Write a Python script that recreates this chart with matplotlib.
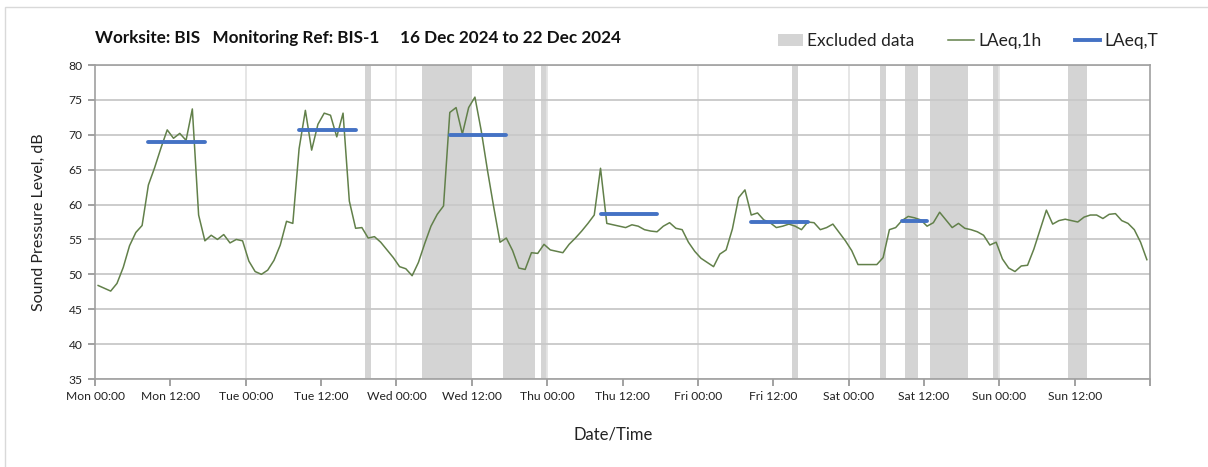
import numpy as np
import matplotlib
matplotlib.use('Agg')
import matplotlib.pyplot as plt
from matplotlib.patches import Rectangle
from matplotlib.lines import Line2D

plt.rcParams['font.family'] = ['Lato', 'DejaVu Sans']

# hourly LAeq,1h values, Mon 00:00 -> Sun 23:00
laeq_1h = [48.4, 48.0, 47.6, 48.7, 51.0, 54.1, 56.0, 57.0, 62.8, 65.3, 68.1, 70.7,
           69.5, 70.2, 69.2, 73.7, 58.5, 54.8, 55.6, 55.0, 55.7, 54.5, 55.0, 54.8,
           51.9, 50.4, 50.0, 50.6, 52.0, 54.2, 57.6, 57.3, 68.0, 73.5, 67.8, 71.5,
           73.1, 72.8, 69.7, 73.1, 60.5, 56.6, 56.7, 55.2, 55.4, 54.6, 53.5, 52.4,
           51.1, 50.8, 49.8, 51.7, 54.4, 56.9, 58.6, 59.8, 73.2, 73.9, 70.1, 73.9,
           75.4, 70.6, 64.9, 59.6, 54.6, 55.2, 53.4, 50.9, 50.7, 53.1, 53.0, 54.3,
           53.5, 53.3, 53.1, 54.3, 55.2, 56.2, 57.3, 58.5, 65.2, 57.3, 57.1, 56.9,
           56.7, 57.1, 56.9, 56.4, 56.2, 56.1, 56.9, 57.4, 56.6, 56.4, 54.6, 53.3,
           52.3, 51.7, 51.1, 52.9, 53.5, 56.5, 61.0, 62.1, 58.5, 58.8, 57.8, 57.4,
           56.7, 56.9, 57.2, 56.9, 56.4, 57.5, 57.4, 56.4, 56.7, 57.2, 56.0, 54.8,
           53.4, 51.4, 51.4, 51.4, 51.4, 52.4, 56.4, 56.7, 57.7, 58.3, 58.1, 57.8,
           56.9, 57.4, 58.9, 57.8, 56.7, 57.3, 56.6, 56.4, 56.1, 55.6, 54.2, 54.6,
           52.2, 50.9, 50.4, 51.2, 51.3, 53.6, 56.4, 59.2, 57.2, 57.7, 57.9, 57.7,
           57.5, 58.2, 58.5, 58.5, 58.0, 58.6, 58.7, 57.7, 57.3, 56.4, 54.6, 52.1]

# LAeq,T periods: first hour, last hour, level
laeq_t_start = [8, 32, 56, 80, 104, 128]
laeq_t_end = [17, 41, 65, 89, 113, 132]
laeq_t_level = [68.9, 70.7, 69.9, 58.7, 57.5, 57.6]

# excluded data (hour from, hour to)
excl_start = [43, 52, 65, 71, 111, 125, 129, 133, 143, 155]
excl_end = [44, 60, 70, 72, 112, 126, 131, 139, 144, 158]

tick_labels = ['Mon 00:00', 'Mon 12:00', 'Tue 00:00', 'Tue 12:00', 'Wed 00:00', 'Wed 12:00',
               'Thu 00:00', 'Thu 12:00', 'Fri 00:00', 'Fri 12:00', 'Sat 00:00', 'Sat 12:00',
               'Sun 00:00', 'Sun 12:00', '']

green = '#62804a'
blue = '#4472c4'
band = '#d4d4d4'

fig = plt.figure(figsize=(12.08, 4.67), dpi=100)
ax = fig.add_axes([95/1208, 1-379/467, (1150-95)/1208, (379-65)/467])

# outer chart border (only left and top edges fall inside the image)
fig.patches.append(Rectangle((5/1208, -0.1), 1.2, 1.1 - 7/467, transform=fig.transFigure,
                             fill=False, edgecolor='#d9d9d9', linewidth=1))

x = np.arange(len(laeq_1h)) + 0.5

for s, e in zip(excl_start, excl_end):
    ax.axvspan(s, e, color=band, linewidth=0, zorder=0.2)

ax.set_xlim(0, 168)
ax.set_ylim(35, 80)
ax.set_yticks(np.arange(35, 81, 5))
ax.set_xticks(np.arange(0, 169, 12))
ax.set_xticklabels(tick_labels)

ax.grid(axis='y', color='#c8c8c8', linewidth=1.3, zorder=0.5)
for d in range(24, 168, 24):
    ax.axvline(d, color='#e4e4e4', linewidth=1.3, zorder=0.4)
ax.set_axisbelow(True)

ax.plot(x, laeq_1h, color=green, linewidth=1.1, zorder=3)
for s, e, v in zip(laeq_t_start, laeq_t_end, laeq_t_level):
    ax.plot([s + 0.5, e + 0.5], [v, v], color=blue, linewidth=2.8,
            solid_capstyle='round', zorder=4)

for sp in ax.spines.values():
    sp.set_color('#a0a0a0')
    sp.set_linewidth(1.2)
ax.tick_params(axis='both', colors='#888888', length=5, width=1.1, labelcolor='#222222',
               labelsize=8.7)
ax.tick_params(axis='y', pad=4)

ax.set_xlabel('Date/Time', fontsize=12, color='#222222')
ax.xaxis.set_label_coords((613 - 95) / 1055, (379 - 427) / 314)
ax.set_ylabel('Sound Pressure Level, dB', fontsize=11.5, color='#222222', labelpad=16)

fig.text(95/1208, 1-38/467, 'Worksite: BIS   Monitoring Ref: BIS-1     16 Dec 2024 to 22 Dec 2024',
         fontsize=12.3, fontweight='bold', ha='left', va='center', color='#111111')

handles = [Rectangle((0, 0), 1, 1, facecolor=band, edgecolor='none'),
           Line2D([], [], color=green, linewidth=1.1),
           Line2D([], [], color=blue, linewidth=2.8)]
fig.legend(handles, ['Excluded data', 'LAeq,1h', 'LAeq,T'], loc='center right',
           bbox_to_anchor=(1174/1208, 1-41/467), ncol=3, frameon=False, fontsize=12.5,
           handlelength=1.45, handletextpad=0.25, columnspacing=1.95, labelcolor='#222222')

fig.savefig('out.png', dpi=100)
